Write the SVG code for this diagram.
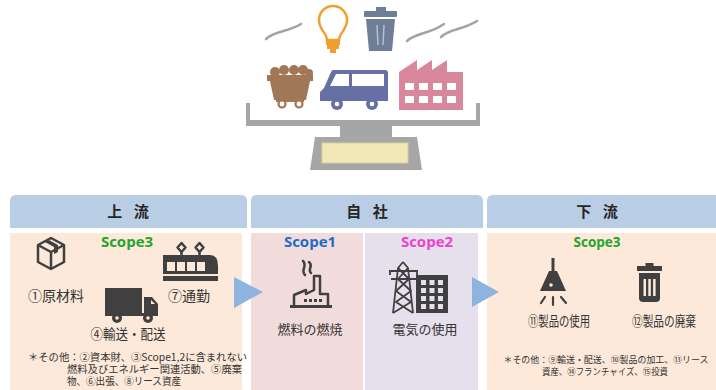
<svg xmlns="http://www.w3.org/2000/svg" width="716" height="390" viewBox="0 0 716 390">
  <style>
    .hdr { fill: #b9cde5; }
    .hdr-t { font-family: 'Noto Sans CJK JP', 'Noto Sans CJK SC', sans-serif; font-size: 15px; font-weight: bold; fill: #262626; text-anchor: middle; letter-spacing: 4px; }
    .scope { font-family: 'Open Sans', 'Liberation Sans', sans-serif; font-size: 15px; font-weight: bold; text-anchor: middle; }
    .lbl { font-family: 'Noto Sans CJK JP', 'Noto Sans CJK SC', sans-serif; font-size: 13.5px; fill: #333333; text-anchor: middle; }
    .note { font-family: 'Noto Sans CJK JP', 'Noto Sans CJK SC', sans-serif; font-size: 10.2px; fill: #333333; }
    .ico { fill: #404040; }
    .ico-l { fill: none; stroke: #404040; stroke-width: 2.5; stroke-linejoin: round; }
    .arrow { fill: #8fb3df; }
  </style>

  <!-- scale with items on the plate -->
  <g id="scale">
    <g fill="#a6a6a6">
      <path d="M246 103 H250 V120 H476 V103 H480 V126 H246 Z"/>
      <rect x="340" y="126" width="52" height="11"/>
      <polygon points="315,137 417,137 422,170 310,170"/>
    </g>
    <rect x="322" y="143" width="86" height="20" fill="#f2e8b6" stroke="#d9cf9f" stroke-width="1"/>
  </g>

  <g id="smoke" fill="none" stroke="#a3a3a3" stroke-width="2.6" stroke-linecap="round">
    <path d="M266 39 C276 30 286 33 301 24"/>
    <path d="M407 41 C417 32 428 35 444 24"/>
    <path d="M441 37 C450 28 461 31 477 21"/>
  </g>

  <g id="bulb">
    <path d="M327 40 C327 33 319 30 319 20 A14 14 0 0 1 347 20 C347 30 339 33 339 40 Z" fill="#ffffff" stroke="#f0a030" stroke-width="2.5"/>
    <g fill="#f0a030">
      <rect x="326" y="40" width="14" height="5"/>
      <rect x="327" y="45" width="12" height="4"/>
      <rect x="330" y="49" width="6" height="4"/>
    </g>
  </g>

  <g id="bin-top" fill="#6e7e96">
    <rect x="376" y="7" width="10" height="4"/>
    <rect x="364" y="11" width="33" height="6" rx="1"/>
    <path d="M366 19 H395 L392 51 H369 Z"/>
    <path d="M377 25 L378 45 M384 25 L383 45" stroke="#b7c0cf" stroke-width="1.5"/>
  </g>

  <g id="coal-cart">
    <g fill="#a07858">
      <circle cx="275" cy="72" r="5"/>
      <circle cx="284" cy="70" r="5"/>
      <circle cx="294" cy="70" r="5"/>
      <circle cx="303" cy="70" r="5"/>
      <circle cx="309" cy="73" r="4"/>
      <path d="M267 75 H313 V81 H310 L306 100 H274 L270 81 H267 Z"/>
      <rect x="276" y="99" width="28" height="3"/>
    </g>
    <circle cx="282" cy="104" r="3.5" fill="#ffffff" stroke="#a07858" stroke-width="2.2"/>
    <circle cx="299" cy="104" r="3.5" fill="#ffffff" stroke="#a07858" stroke-width="2.2"/>
  </g>

  <g id="van">
    <path d="M333 70 H385 Q388 70 388 73 V101 H320 V92 L324 88 L331 72 Q332 70 333 70 Z" fill="#6670a4"/>
    <polygon points="336,74 349,74 349,86 330,86" fill="#ffffff"/>
    <rect x="352" y="74" width="32" height="12" fill="#ffffff"/>
    <circle cx="337" cy="104" r="6" fill="#6670a4"/>
    <circle cx="372" cy="104" r="6" fill="#6670a4"/>
    <circle cx="337" cy="104" r="2.3" fill="#ffffff"/>
    <circle cx="372" cy="104" r="2.3" fill="#ffffff"/>
  </g>

  <g id="factory-top">
    <path d="M399 110 V72 L417 60 V70 L432 60 V70 L447 60 V72 H463 V110 Z" fill="#d9879b"/>
    <g fill="#ffffff">
      <rect x="405" y="83" width="9" height="7"/>
      <rect x="419" y="83" width="9" height="7"/>
      <rect x="433" y="83" width="9" height="7"/>
      <rect x="447" y="83" width="9" height="7"/>
      <rect x="405" y="96" width="9" height="7"/>
      <rect x="419" y="96" width="9" height="7"/>
      <rect x="433" y="96" width="9" height="7"/>
      <rect x="447" y="96" width="9" height="7"/>
    </g>
  </g>

  <!-- column headers -->
  <g id="header-upstream">
    <path class="hdr" d="M10 228 V201 Q10 195 16 195 H241 Q247 195 247 201 V228 Z"/>
    <text class="hdr-t" x="130" y="217">上 流</text>
  </g>
  <g id="header-company">
    <path class="hdr" d="M251 228 V201 Q251 195 257 195 H477 Q483 195 483 201 V228 Z"/>
    <text class="hdr-t" x="369" y="217">自 社</text>
  </g>
  <g id="header-downstream">
    <path class="hdr" d="M487 228 V201 Q487 195 493 195 H716 V228 Z"/>
    <text class="hdr-t" x="599" y="217">下 流</text>
  </g>

  <!-- upstream: Scope3 -->
  <g id="upstream">
    <rect x="10" y="233" width="232" height="157" fill="#fde9d9"/>
    <text class="scope" x="127" y="247" fill="#22a52a">Scope3</text>

    <!-- cardboard box -->
    <g class="ico-l">
      <polygon points="51,238 64,245 64,262 51,269 38,262 38,245"/>
      <polyline points="38,245 51,252 64,245"/>
      <line x1="51" y1="252" x2="51" y2="269"/>
    </g>
    <polygon class="ico" points="44,241.5 48,239.5 58,245 58,252 54,254 54,247"/>
    <text class="lbl" x="56" y="301" style="font-size:14px">①原材料</text>

    <!-- train -->
    <g class="ico-l" stroke-width="2">
      <polygon points="181.5,243 185.5,247.5 181.5,252 177.5,247.5"/>
      <polygon points="199.5,243 203.5,247.5 199.5,252 195.5,247.5"/>
      <line x1="181.5" y1="252" x2="181.5" y2="255"/>
      <line x1="199.5" y1="252" x2="199.5" y2="255"/>
    </g>
    <path class="ico" d="M163 255 H210 Q218 255 218 266 V281 H163 Z"/>
    <g fill="#fde9d9">
      <rect x="167" y="262" width="8" height="9"/>
      <rect x="177" y="262" width="8" height="9"/>
      <rect x="187" y="262" width="8" height="9"/>
      <rect x="197" y="262" width="8" height="9"/>
      <rect x="163" y="274" width="55" height="2"/>
    </g>
    <text class="lbl" x="189" y="301" style="font-size:14px">⑦通勤</text>

    <!-- truck -->
    <rect class="ico" x="105" y="288" width="37" height="25"/>
    <path class="ico" d="M144 297 H152 L158 304 V313 H144 Z"/>
    <polygon points="151,300 155,304 151,304" fill="#fde9d9"/>
    <rect class="ico" x="105" y="313" width="53" height="3"/>
    <circle class="ico" cx="117" cy="318" r="5"/>
    <circle class="ico" cx="148" cy="318" r="5"/>
    <circle cx="117" cy="318" r="1.8" fill="#fde9d9"/>
    <circle cx="148" cy="318" r="1.8" fill="#fde9d9"/>
    <text class="lbl" x="128" y="339" textLength="75" lengthAdjust="spacingAndGlyphs">④輸送・配送</text>

    <text class="note">
      <tspan x="28" y="361" textLength="219" lengthAdjust="spacingAndGlyphs">＊その他：②資本財、③Scope1,2に含まれない</tspan>
      <tspan x="67" y="373" textLength="175" lengthAdjust="spacingAndGlyphs">燃料及びエネルギー関連活動、⑤廃棄</tspan>
      <tspan x="67" y="385" textLength="114" lengthAdjust="spacingAndGlyphs">物、⑥出張、⑧リース資産</tspan>
    </text>
  </g>

  <!-- own company: Scope1 -->
  <g id="scope1">
    <rect x="251" y="233" width="112" height="157" fill="#f2dcdb"/>
    <text class="scope" x="310" y="247" fill="#1f6cc6">Scope1</text>
    <g class="ico-l" stroke-width="1.8" stroke-linecap="round">
      <path d="M305 275 C300 270 308 266 303 261"/>
      <path d="M311 273 C307 269 314 266 309 262"/>
    </g>
    <path class="ico-l" d="M294 305 V295 L306 290 V294 L314 290 V276 H320 V294 H328 V305"/>
    <g class="ico">
      <rect x="304" y="299" width="3" height="3"/>
      <rect x="309" y="299" width="3" height="3"/>
      <rect x="314" y="299" width="3" height="3"/>
      <rect x="319" y="299" width="3" height="3"/>
      <rect x="290" y="305" width="42" height="3"/>
    </g>
    <text class="lbl" x="310" y="334" style="font-size:13px">燃料の燃焼</text>
  </g>

  <!-- own company: Scope2 -->
  <g id="scope2">
    <rect x="365" y="233" width="113" height="157" fill="#e5e0ec"/>
    <text class="scope" x="427" y="247" fill="#ee3fcd">Scope2</text>
    <g fill="none" stroke="#404040" stroke-width="1.8" stroke-linejoin="round">
      <path d="M403 262 L398 268 L393 313 M403 262 L408 268 L413 313"/>
      <path d="M389 271 H418 M391 279 H416"/>
      <path d="M390 271 V275 M417 271 V275"/>
      <path d="M398 279 L411 291 L396 302 L413 313 M409 279 L396 291 L411 302 L393 313"/>
      <path d="M398 268 L409 279 M408 268 L398 279"/>
    </g>
    <rect class="ico" x="416" y="275" width="32" height="38"/>
    <g fill="#e5e0ec">
      <rect x="421" y="280" width="5" height="5"/>
      <rect x="429.5" y="280" width="5" height="5"/>
      <rect x="438" y="280" width="5" height="5"/>
      <rect x="421" y="288" width="5" height="5"/>
      <rect x="429.5" y="288" width="5" height="5"/>
      <rect x="438" y="288" width="5" height="5"/>
      <rect x="421" y="296" width="5" height="5"/>
      <rect x="429.5" y="296" width="5" height="5"/>
      <rect x="438" y="296" width="5" height="5"/>
      <rect x="421" y="304" width="5" height="5"/>
      <rect x="429.5" y="304" width="5" height="5"/>
      <rect x="438" y="304" width="5" height="5"/>
    </g>
    <text class="lbl" x="425" y="334" style="font-size:13px">電気の使用</text>
  </g>

  <!-- downstream: Scope3 -->
  <g id="downstream">
    <rect x="487" y="233" width="229" height="157" fill="#fde9d9"/>
    <text class="scope" x="597" y="247" fill="#22a52a" textLength="47" lengthAdjust="spacingAndGlyphs">Scope3</text>

    <!-- pendant lamp -->
    <rect class="ico" x="551.5" y="258" width="3" height="13"/>
    <path class="ico" d="M549 271 H557 L566 291 H540 Z"/>
    <circle cx="551" cy="285" r="1.8" fill="#fde9d9"/>
    <g stroke="#404040" stroke-width="2.2" stroke-linecap="round">
      <line x1="545" y1="297" x2="541" y2="303"/>
      <line x1="553" y1="297" x2="553" y2="305"/>
      <line x1="561" y1="297" x2="566" y2="303"/>
    </g>
    <text class="lbl" x="559" y="326" textLength="62" lengthAdjust="spacingAndGlyphs">⑪製品の使用</text>

    <!-- waste bin -->
    <rect class="ico" x="645.5" y="263" width="8" height="4"/>
    <rect class="ico" x="637" y="266" width="25" height="5"/>
    <path class="ico" d="M639 273 H660 V298 Q660 302 656 302 H643 Q639 302 639 298 Z"/>
    <g fill="#fde9d9">
      <rect x="643.5" y="279" width="2.5" height="17"/>
      <rect x="648.3" y="279" width="2.5" height="17"/>
      <rect x="653.1" y="279" width="2.5" height="17"/>
    </g>
    <text class="lbl" x="664" y="326" textLength="64" lengthAdjust="spacingAndGlyphs">⑫製品の廃棄</text>

    <text class="note" style="font-size:9.2px" text-anchor="middle">
      <tspan x="607" y="363" textLength="205" lengthAdjust="spacingAndGlyphs">＊その他：⑨輸送・配送、⑩製品の加工、⑬リース</tspan>
      <tspan x="605" y="375" textLength="126" lengthAdjust="spacingAndGlyphs">資産、⑭フランチャイズ、⑮投資</tspan>
    </text>
  </g>

  <!-- flow arrows between columns -->
  <g id="connectors">
    <polygon class="arrow" points="234,277 263,292 234,308"/>
    <polygon class="arrow" points="472,277 499,292 472,307"/>
  </g>
</svg>
